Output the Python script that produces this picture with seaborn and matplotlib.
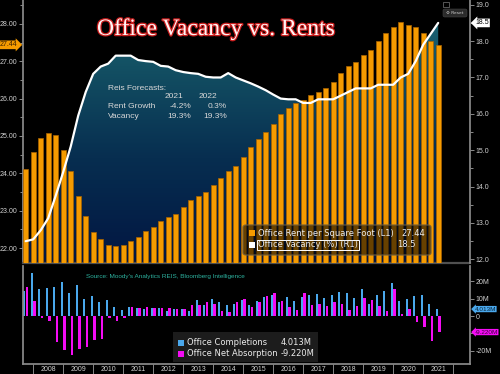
import numpy as np
import pandas as pd
import matplotlib
matplotlib.use("Agg")
import matplotlib.pyplot as plt
import matplotlib.patheffects as pe
import matplotlib.transforms as mtrans
from matplotlib.colors import LinearSegmentedColormap
from matplotlib.patches import Rectangle, FancyBboxPatch
from matplotlib.ticker import MultipleLocator, FixedLocator, FuncFormatter
import seaborn as sns

# quarter-end data, Q3 2007 .. Q2 2021
quarters = [str(p) for p in pd.period_range("2007Q3", "2021Q2", freq="Q")]

rent = [24.11, 24.57, 24.94, 25.07, 25.03, 24.62, 24.05, 23.39, 22.87, 22.42,
        22.24, 22.07, 22.05, 22.08, 22.20, 22.29, 22.45, 22.57, 22.73, 22.84,
        22.90, 23.09, 23.28, 23.40, 23.51, 23.69, 23.88, 24.06, 24.20, 24.45,
        24.70, 24.91, 25.11, 25.33, 25.60, 25.75, 25.87, 25.97, 26.10, 26.17,
        26.28, 26.44, 26.68, 26.86, 26.98, 27.17, 27.29, 27.53, 27.76, 27.93,
        28.05, 27.98, 27.91, 27.76, 27.55, 27.44]

vacancy = [12.5, 12.55, 12.8, 13.13, 13.75, 14.4, 15.1, 15.95, 16.6, 17.1,
           17.3, 17.38, 17.6, 17.6, 17.6, 17.48, 17.45, 17.43, 17.32, 17.3,
           17.2, 17.15, 17.12, 17.1, 17.02, 17.0, 17.0, 17.12, 17.0, 16.92,
           16.84, 16.75, 16.65, 16.53, 16.42, 16.4, 16.4, 16.3, 16.3, 16.4,
           16.4, 16.4, 16.5, 16.6, 16.7, 16.7, 16.7, 16.8, 16.8, 16.8,
           17.0, 17.1, 17.45, 17.9, 18.2, 18.5]

# millions of sq ft
completions = [14.2, 24.8, 15.5, 16.1, 16.5, 19.4, 13.2, 18.0, 9.7, 11.6, 8.1, 9.3, 5.2, 3.3,
               5.4, 4.5, 3.9, 4.5, 4.8, 2.9, 4.3, 4.3, 2.9, 9.1, 6.4, 9.7, 8.3, 6.4, 6.8,
               9.0, 6.4, 8.7, 11.2, 12.2, 8.3, 10.7, 8.7, 11.2, 12.2, 12.6, 10.3, 12.2, 14.0,
               13.0, 10.3, 15.3, 6.8, 12.0, 14.5, 19.0, 8.7, 9.7, 11.6, 12.2, 7.2, 4.013]
absorption = [16.9, 8.4, -1.0, -2.9, -15.1, -19.4, -22.7, -18.8, -18.0, -13.5, -13.0, -1.4, -2.9, -1.4,
              5.4, 4.8, 5.2, 4.5, 4.8, 4.8, 4.3, 4.3, 6.2, 6.4, 7.8, 6.8, 2.9, 2.5, 7.8,
              10.0, 5.2, 8.3, 11.6, 13.0, 8.7, 5.4, 3.3, 13.0, 6.2, 6.8, 5.8, 8.3, 6.8,
              3.3, 5.8, 10.3, 9.1, 5.8, 2.9, 15.5, 1.4, 3.9, -3.5, -6.4, -14.5, -9.22]

years = list(range(2008, 2022))

ORANGE = "#f59b00"
BLUE = "#4aa8ec"
MAGENTA = "#f50cf5"
GRAY = "#8a8a8a"
LBL = "#d0d0d0"

sns.set_theme(style="dark", rc={
    "figure.facecolor": "black", "axes.facecolor": "black",
    "axes.edgecolor": GRAY, "text.color": LBL,
    "xtick.color": GRAY, "ytick.color": GRAY, "axes.grid": False,
})
plt.rcParams["font.family"] = ["Liberation Sans", "DejaVu Sans"]


def fx(px):
    return px / 500


def fy(py):
    return 1 - py / 374


idx = np.arange(len(quarters))
XLIM = (-0.36, 59.24)

fig = plt.figure(figsize=(5, 3.74), dpi=100)
ax = fig.add_axes([fx(23), fy(263), fx(470) - fx(23), fy(0) - fy(263)])
axr = ax.twinx()

# --- top panel: rent bars (L) + vacancy line (R) ---
sns.barplot(x=quarters, y=rent, color=ORANGE, saturation=1, width=0.68,
            edgecolor="#a86200", linewidth=0.5, errorbar=None, ax=ax, zorder=3)

ax.set_ylim(21.6, 28.64)
axr.set_ylim(11.9, 19.13)
ax.set_xlim(*XLIM)

# gradient area under vacancy line
cmap = LinearSegmentedColormap.from_list(
    "vac", [(0, "#021642"), (0.4, "#072e50"), (0.75, "#135063"), (1, "#1d6a79")])
poly = ax.fill_between(idx, vacancy, 0, transform=axr.transData,
                       facecolor="none", edgecolor="none")
grad = np.linspace(1, 0, 256).reshape(-1, 1)
im = ax.imshow(grad, cmap=cmap, aspect="auto", extent=[0, 1, 0, 1],
               transform=ax.transAxes, zorder=1)
im.set_clip_path(poly.get_paths()[0], transform=axr.transData)

sns.lineplot(x=idx, y=vacancy, color="white", linewidth=1.6, ax=axr)

ax.set_xlim(*XLIM)
ax.set_ylim(21.6, 28.64)
axr.set_ylim(11.9, 19.13)

ax.set_xlabel("")
ax.set_ylabel("")
axr.set_ylabel("")
ax.tick_params(axis="x", bottom=False, labelbottom=False)
axr.tick_params(axis="x", bottom=False, labelbottom=False)

ax.yaxis.set_major_locator(MultipleLocator(1))
ax.yaxis.set_minor_locator(MultipleLocator(0.5))
ax.yaxis.set_major_formatter(FuncFormatter(lambda v, p: f"{v:.2f}"))
ax.tick_params(axis="y", which="both", left=True, width=0.6, color="#a0a0a0",
               labelsize=5, labelcolor=LBL, pad=1)
ax.tick_params(axis="y", which="major", length=3)
ax.tick_params(axis="y", which="minor", length=2)

axr.yaxis.set_major_locator(MultipleLocator(1))
axr.yaxis.set_minor_locator(MultipleLocator(0.5))
axr.yaxis.set_major_formatter(FuncFormatter(lambda v, p: f"{v:.1f}"))
axr.tick_params(axis="y", which="both", right=True, width=0.6, color="#a0a0a0",
                labelsize=5, labelcolor=LBL, pad=1)
axr.tick_params(axis="y", which="major", length=3)
axr.tick_params(axis="y", which="minor", length=2)

for s in ["top", "right"]:
    ax.spines[s].set_visible(False)
for s in ["top", "left", "bottom"]:
    axr.spines[s].set_visible(False)
ax.spines["left"].set_color(GRAY)
ax.spines["bottom"].set_color("#505050")
ax.spines["bottom"].set_linewidth(1.6)
axr.spines["right"].set_color(GRAY)

# last-value markers on axes
bl = mtrans.blended_transform_factory(ax.transAxes, ax.transData)
ax.text(-0.012, rent[-1], f"{rent[-1]:.2f}", transform=bl, ha="right", va="center",
        fontsize=5, color="#3a2000",
        bbox=dict(boxstyle="rarrow,pad=0.12", fc=ORANGE, ec="none"))
blr = mtrans.blended_transform_factory(axr.transAxes, axr.transData)
axr.text(1.012, vacancy[-1], f"{vacancy[-1]:.1f}", transform=blr, ha="left", va="center",
         fontsize=5, color="black",
         bbox=dict(boxstyle="larrow,pad=0.12", fc="white", ec="none"))

# title and forecast note
fig.text(fx(216), fy(35), "Office Vacancy vs. Rents", family="Liberation Serif",
         fontsize=17, color="#fff4f4", ha="center", va="baseline",
         path_effects=[pe.withStroke(linewidth=1.8, foreground="#c81c1c")])

note = dict(fontsize=6, color="#d8d8d8", va="center")
fig.text(fx(108), fy(88), "Reis Forecasts:", ha="left", **note)
fig.text(fx(183), fy(97), "2021", ha="right", **note)
fig.text(fx(217), fy(97), "2022", ha="right", **note)
fig.text(fx(108), fy(107), "Rent Growth", ha="left", **note)
fig.text(fx(191), fy(107), "-4.2%", ha="right", **note)
fig.text(fx(227), fy(107), "0.3%", ha="right", **note)
fig.text(fx(108), fy(116.5), "Vacancy", ha="left", **note)
fig.text(fx(191), fy(116.5), "19.3%", ha="right", **note)
fig.text(fx(227), fy(116.5), "19.3%", ha="right", **note)

# top legend
fig.add_artist(FancyBboxPatch((fx(243), fy(255)), fx(431) - fx(243), fy(225) - fy(255),
                              boxstyle="round,pad=0,rounding_size=0.006",
                              transform=fig.transFigure, fc=(0, 0, 0, 0.58),
                              ec="#6e5c3c", lw=0.8, zorder=5))
fig.add_artist(Rectangle((fx(249), fy(236)), fx(6), fx(6) * 500 / 374,
                         transform=fig.transFigure, fc=ORANGE, ec="none", zorder=6))
fig.add_artist(Rectangle((fx(249), fy(248)), fx(6), fx(6) * 500 / 374,
                         transform=fig.transFigure, fc="white", ec="none", zorder=6))
leg = dict(fontsize=6, color="#ececec", va="center", family="DejaVu Sans", zorder=7)
fig.text(fx(258), fy(233), "Office Rent per Square Foot (L1)", ha="left", **leg)
fig.text(fx(425), fy(233), f"{rent[-1]:.2f}", ha="right", **leg)
fig.text(fx(258), fy(245), "Office Vacancy (%) (R1)", ha="left",
         bbox=dict(boxstyle="square,pad=0.1", fc="none", ec="white", lw=0.7), **leg)
fig.text(fx(416), fy(245), f"{vacancy[-1]:.1f}", ha="right", **leg)

# small reset button
fig.add_artist(FancyBboxPatch((fx(443), fy(17)), fx(24), fy(9) - fy(17),
                              boxstyle="round,pad=0,rounding_size=0.004",
                              transform=fig.transFigure, fc="#2b2b2b", ec="#444444", lw=0.4))
fig.text(fx(455), fy(13), "\u2699 Reset", fontsize=3.2, color="#cfcfcf",
         ha="center", va="center", family="DejaVu Sans")
fig.add_artist(Rectangle((fx(443), fy(7)), fx(6), fy(2) - fy(7), transform=fig.transFigure,
                         fc="none", ec="#777777", lw=0.5))

# --- bottom panel: completions / net absorption ---
axb = fig.add_axes([fx(23), fy(364), fx(470) - fx(23), fy(266) - fy(364)])
flows = pd.DataFrame({
    "quarter": quarters * 2,
    "value": completions + absorption,
    "series": ["Office Completions"] * len(quarters) + ["Office Net Absorption"] * len(quarters),
})
sns.barplot(data=flows, x="quarter", y="value", hue="series", palette=[BLUE, MAGENTA],
            saturation=1, width=0.76, gap=0.18, errorbar=None, legend=False,
            edgecolor="none", linewidth=0, ax=axb)

axb.set_xlim(*XLIM)
axb.set_ylim(-27.6, 28.8)
axb.set_xlabel("")
axb.set_ylabel("")
axb.yaxis.tick_right()
axb.yaxis.set_major_locator(FixedLocator([-20, -10, 0, 10, 20]))
axb.set_yticklabels(["-20M", "", "0", "10M", "20M"])
axb.tick_params(axis="y", which="major", right=True, left=False, length=3, width=0.6,
                color="#a0a0a0", labelsize=5, labelcolor=LBL, pad=1)

bounds = [1 + 4 * k for k in range(len(years) + 1)]
centers = [3 + 4 * k for k in range(len(years))]
axb.set_xticks(bounds)
axb.set_xticklabels([])
axb.set_xticks(centers, minor=True)
axb.set_xticklabels([str(y) for y in years], minor=True)
axb.tick_params(axis="x", which="major", bottom=True, length=8, width=0.6, color="#9a9a9a")
axb.tick_params(axis="x", which="minor", bottom=True, length=0, labelsize=5,
                labelcolor=LBL, pad=1.5)

axb.spines["top"].set_visible(False)
for s in ["left", "right", "bottom"]:
    axb.spines[s].set_color(GRAY)

blb = mtrans.blended_transform_factory(axb.transAxes, axb.transData)
axb.text(1.01, completions[-1], f"{completions[-1]:.3f}M", transform=blb, ha="left",
         va="center", fontsize=4.6, color="#06243a",
         bbox=dict(boxstyle="larrow,pad=0.1", fc=BLUE, ec="none"))
axb.text(1.01, absorption[-1], f"{absorption[-1]:.3f}M", transform=blb, ha="left",
         va="center", fontsize=4.6, color="#3a003a",
         bbox=dict(boxstyle="larrow,pad=0.1", fc=MAGENTA, ec="none"))

fig.text(fx(86), fy(276.5), "Source: Moody's Analytics REIS, Bloomberg Intelligence",
         fontsize=4.6, color="#2db3a0", ha="left", va="center")

# bottom legend
fig.add_artist(Rectangle((fx(173), fy(362)), fx(318) - fx(173), fy(332) - fy(362),
                         transform=fig.transFigure, fc="#1c1c1c", ec="none", zorder=5))
fig.add_artist(Rectangle((fx(178), fy(345.5)), fx(6), fx(6) * 500 / 374,
                         transform=fig.transFigure, fc=BLUE, ec="none", zorder=6))
fig.add_artist(Rectangle((fx(178), fy(356.5)), fx(6), fx(6) * 500 / 374,
                         transform=fig.transFigure, fc=MAGENTA, ec="none", zorder=6))
leg2 = dict(fontsize=6, color="#ececec", va="center", family="DejaVu Sans", zorder=7)
fig.text(fx(187), fy(342.5), "Office Completions", ha="left", **leg2)
fig.text(fx(281), fy(342.5), f"{completions[-1]:.3f}M", ha="left", **leg2)
fig.text(fx(187), fy(353.5), "Office Net Absorption", ha="left", **leg2)
fig.text(fx(281), fy(353.5), f"{absorption[-1]:.3f}M", ha="left", **leg2)

fig.savefig("out.png", dpi=100, facecolor="black")
